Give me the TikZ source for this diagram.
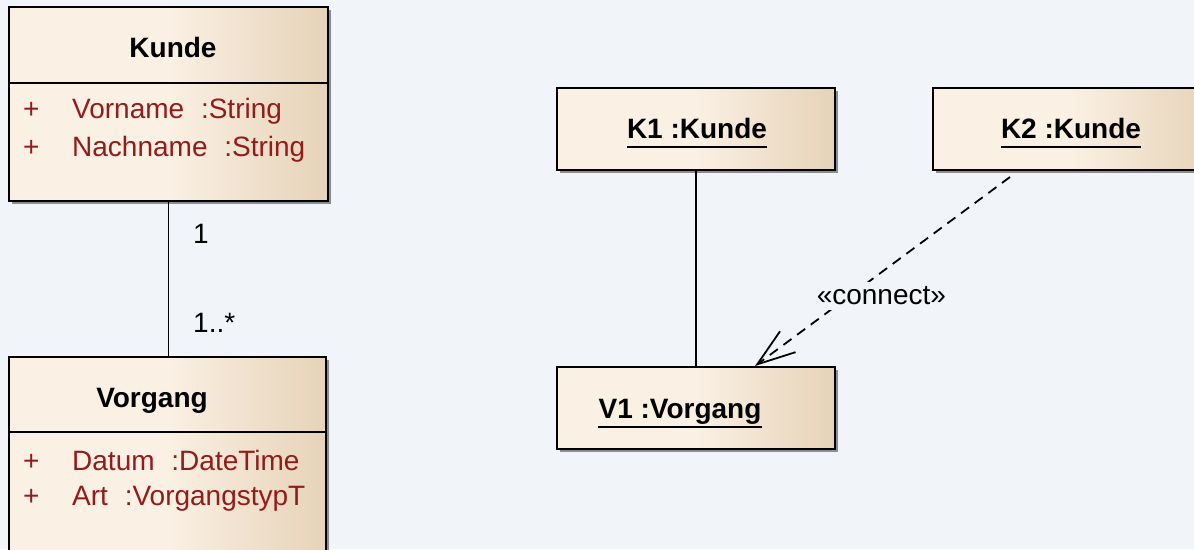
\documentclass[tikz,border=0pt]{standalone}
\usepackage{fontspec}
\setmainfont{Liberation Sans}
\usetikzlibrary{arrows.meta, shadows}

\definecolor{bgcol}{HTML}{F1F4F8}
\definecolor{boxlight}{HTML}{FAF0E3}
\definecolor{boxdark}{HTML}{E6D3B8}
\definecolor{attrcol}{HTML}{941B1B}

\newcommand{\umlfont}{\fontsize{28}{33}\selectfont}
\newcommand{\attrgap}{\hspace{0.6em}}

\tikzset{
	umlbox/.style = {draw = black, line width = 2pt, rectangle, inner sep = 0pt,
		left color = boxlight, right color = boxdark, middle color = boxlight,
		drop shadow = {shadow xshift = 3pt, shadow yshift = -3pt, fill = black!45, opacity = 1}},
	clstitle/.style = {font = \umlfont\bfseries, anchor = base, inner sep = 0pt},
	attr/.style = {font = \umlfont, text = attrcol, anchor = base west, inner sep = 0pt},
	mult/.style = {font = \umlfont, anchor = base west, inner sep = 0pt},
	conline/.style = {line width = 1.8pt},
}

\begin{document}
\begin{tikzpicture}[x = 1pt, y = -1pt]
	%	background
	\fill[bgcol] (0, 0) rectangle (1194, 549);
	\useasboundingbox (0, 0) rectangle (1194, 549);
	\clip (0, 0) rectangle (1194, 549);
	
	\def\objw{278pt}
	\def\objh{82pt}
	
	%	class diagram
	\node[umlbox, minimum width = 319pt, minimum height = 194pt] (kunde) at (168.5, 104) {};
	\node[umlbox, minimum width = 317pt, minimum height = 223pt] (vorgang) at (167.5, 468.5) {};
	\draw[line width = 2pt] (kunde.west |- 0, 83) -- (kunde.east |- 0, 83);
	\draw[line width = 2pt] (vorgang.west |- 0, 432) -- (vorgang.east |- 0, 432);
	
	\node[clstitle] (kundename) at (173, 57) {Kunde};
	\node[attr] (plus1) at (23, 118) {+};
	\node[attr] (vorname) at (72, 118) {Vorname\attrgap:String};
	\node[attr] (plus2) at (23, 156) {+};
	\node[attr] (nachname) at (72, 156) {Nachname\attrgap:String};
	
	\node[clstitle] (vorgangname) at (152, 407) {Vorgang};
	\node[attr] (plus3) at (23, 470) {+};
	\node[attr] (datum) at (72, 470) {Datum\attrgap:DateTime};
	\node[attr] (plus4) at (23, 505) {+};
	\node[attr] (art) at (72, 505) {Art\attrgap:VorgangstypT};
	
	\draw[conline] (kunde.south) -- (kunde.south |- vorgang.north);
	\node[mult] (mult1) at (193, 243) {1};
	\node[mult] (mult2) at (193, 332) {1..*};
	
	%	object diagram
	\node[umlbox, minimum width = \objw, minimum height = \objh] (k1) at (696, 129) {};
	\node[umlbox, minimum width = \objw, minimum height = \objh] (k2) at (1072, 129) {};
	\node[umlbox, minimum width = \objw, minimum height = \objh] (v1) at (696, 408) {};
	
	\node[clstitle] (k1name) at (697, 138) {K1 :Kunde};
	\node[clstitle] (k2name) at (1071, 138) {K2 :Kunde};
	\node[clstitle] (v1name) at (680, 418) {V1 :Vorgang};
	\foreach \n in {k1name, k2name, v1name}
		\draw[line width = 2pt] ([yshift = -9pt]\n.base west) -- ([yshift = -9pt]\n.base east);
	
	\draw[conline] (k1) -- (v1);
	\draw[conline, dash pattern = on 10pt off 7pt,
		-{Straight Barb[length = 38pt, width = 26pt, line width = 1.8pt]}]
		([xshift = -62pt, yshift = -6pt]k2.south) -- node[pos = 0.63, xshift = 32pt, fill = bgcol, inner sep = 5pt, font = \umlfont] (conn) {«connect»} ([xshift = 59pt]v1.north);
\end{tikzpicture}
\end{document}
